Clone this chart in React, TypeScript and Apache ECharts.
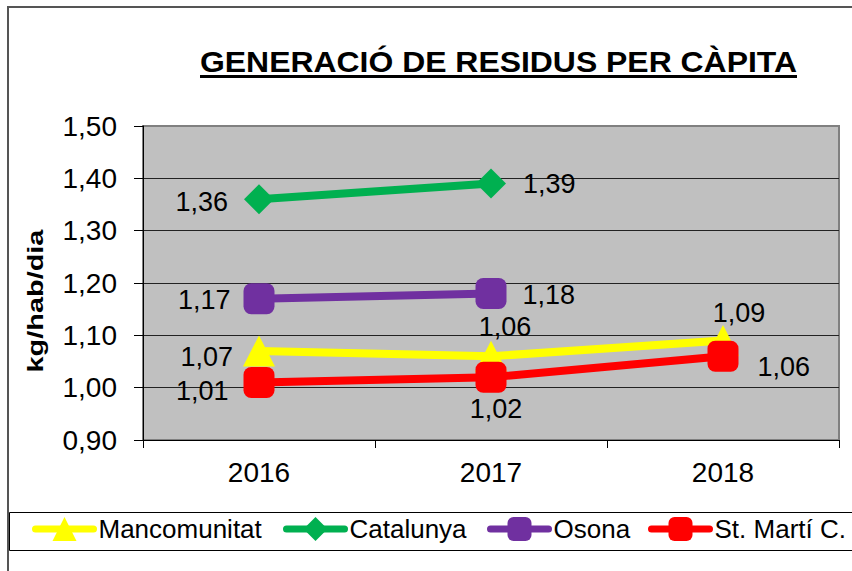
import React, { useEffect, useRef } from 'react';
import * as echarts from 'echarts';

const categories = ['2016', '2017', '2018'];
const mancomunitat = [1.07, 1.06, 1.09];
const catalunya = [1.36, 1.39, null];
const osona = [1.17, 1.18, null];
const stMarti = [1.01, 1.02, 1.06];
const seriesNames = ['Mancomunitat', 'Catalunya', 'Osona', 'St. Martí C.'];
const seriesValues = [mancomunitat, catalunya, osona, stMarti];
const yMin = 0.9;
const yMax = 1.5;
const yStep = 0.1;
const chartTitle = 'GENERACIÓ DE RESIDUS PER CÀPITA';
const yName = 'kg/hab/dia';

const FONT = '"Liberation Sans", Arial, Helvetica, sans-serif';

const seriesStyles = [
  { color: '#FFFF00', symbol: 'triangle', size: [32, 31] },
  { color: '#00B050', symbol: 'diamond', size: 30 },
  { color: '#7030A0', symbol: 'roundRect', size: 31 },
  { color: '#FF0000', symbol: 'roundRect', size: 31 },
];

const labelPlacement: any[][] = [
  [
    { position: 'left', distance: 10, offset: [0, 6] },
    { position: 'top', distance: 0, offset: [14, 0] },
    { position: 'top', distance: 0, offset: [16, 1] },
  ],
  [
    { position: 'left', distance: 16, offset: [0, 3] },
    { position: 'right', distance: 17, offset: [0, 0] },
    { position: 'right', distance: 10, offset: [0, 0] },
  ],
  [
    { position: 'left', distance: 13, offset: [0, 1] },
    { position: 'right', distance: 16, offset: [0, 2] },
    { position: 'right', distance: 10, offset: [0, 0] },
  ],
  [
    { position: 'left', distance: 15, offset: [0, 9] },
    { position: 'bottom', distance: 3, offset: [5, 0] },
    { position: 'right', distance: 19, offset: [0, 11] },
  ],
];

const legendLefts = [32, 283, 487, 648];

const fmt = (v: number) => v.toFixed(2).replace('.', ',');

function measure(text: string, font: string) {
  const c = document.createElement('canvas').getContext('2d');
  if (!c) return 0;
  c.font = font;
  return c.measureText(text).width;
}

export default function App() {
  const ref = useRef<HTMLDivElement>(null);
  useEffect(() => {
    document.body.style.margin = '0';
    if (!ref.current) return;
    const chart = echarts.init(ref.current, undefined, { renderer: 'svg' });

    const titleSize = 30;
    const titleW = measure(chartTitle, `bold ${titleSize}px ${FONT}`) || 597;
    const titleScale = 597 / titleW;
    const yNameSize = 22;
    const yNameW = measure(yName, `bold ${yNameSize}px ${FONT}`) || 110;
    const yNameScale = 143 / yNameW;

    const series = seriesNames.map((name, si) => ({
      name,
      type: 'line',
      symbol: seriesStyles[si].symbol,
      symbolSize: seriesStyles[si].size,
      itemStyle: { color: seriesStyles[si].color },
      lineStyle: { color: seriesStyles[si].color, width: 8, cap: 'round' },
      z: 2 + si,
      data: seriesValues[si].map((v, i) =>
        v == null
          ? null
          : {
              value: v,
              label: {
                show: true,
                ...labelPlacement[si][i],
              },
            }
      ),
      label: {
        show: true,
        fontSize: 27,
        color: '#000',
        fontFamily: FONT,
        formatter: (p: any) => fmt(Number(p.value)),
      },
      emphasis: { disabled: true },
    }));

    chart.setOption({
      animation: false,
      textStyle: { fontFamily: FONT },
      grid: {
        left: 143,
        top: 126,
        right: 13,
        bottom: 131,
        show: true,
        backgroundColor: '#C0C0C0',
        borderColor: '#808080',
        borderWidth: 2,
      },
      legend: seriesNames.map((n, i) => ({
        data: [n],
        left: legendLefts[i],
        top: 516,
        itemWidth: 58,
        itemHeight: 30,
        padding: 0,
        selectedMode: false,
        lineStyle: { width: 7, cap: 'round' },
        textStyle: { fontSize: 26, color: '#000', fontFamily: FONT },
      })),
      xAxis: {
        type: 'category',
        data: categories,
        boundaryGap: true,
        axisLine: { show: true, lineStyle: { color: '#000', width: 1 } },
        axisTick: { show: true, length: 8, lineStyle: { color: '#000' } },
        axisLabel: { fontSize: 28, color: '#000', fontFamily: FONT, margin: 18 },
        splitLine: { show: false },
      },
      yAxis: {
        type: 'value',
        min: yMin,
        max: yMax,
        interval: yStep,
        axisLine: { show: true, lineStyle: { color: '#000', width: 1 } },
        axisTick: { show: true, length: 9, lineStyle: { color: '#000' } },
        axisLabel: {
          fontSize: 28,
          color: '#000',
          fontFamily: FONT,
          margin: 26,
          formatter: (v: number) => fmt(v),
        },
        splitLine: { show: true, showMaxLine: false, lineStyle: { color: '#222', width: 1 } },
      },
      series,
      graphic: [
        {
          type: 'rect',
          silent: true,
          z: -10,
          shape: { x: 8, y: 7, width: 900, height: 600 },
          style: { fill: 'none', stroke: '#555', lineWidth: 2 },
        },
        {
          type: 'rect',
          silent: true,
          shape: { x: 9.5, y: 512.5, width: 900, height: 38 },
          style: { fill: 'none', stroke: '#000', lineWidth: 1 },
        },
        {
          type: 'text',
          x: 200,
          y: 62,
          scaleX: titleScale,
          style: {
            text: chartTitle,
            fontSize: titleSize,
            fontWeight: 'bold',
            fontFamily: FONT,
            fill: '#000',
            align: 'left',
            verticalAlign: 'middle',
          },
        },
        {
          type: 'line',
          silent: true,
          shape: { x1: 200, y1: 76.5, x2: 797, y2: 76.5 },
          style: { stroke: '#000', lineWidth: 3 },
        },
        {
          type: 'text',
          x: 35,
          y: 301,
          rotation: Math.PI / 2,
          scaleX: yNameScale,
          style: {
            text: yName,
            fontSize: yNameSize,
            fontWeight: 'bold',
            fontFamily: FONT,
            fill: '#000',
            align: 'center',
            verticalAlign: 'middle',
          },
        },
      ],
    });
    return () => chart.dispose();
  }, []);
  return <div ref={ref} style={{ width: 852, height: 571 }} />;
}
